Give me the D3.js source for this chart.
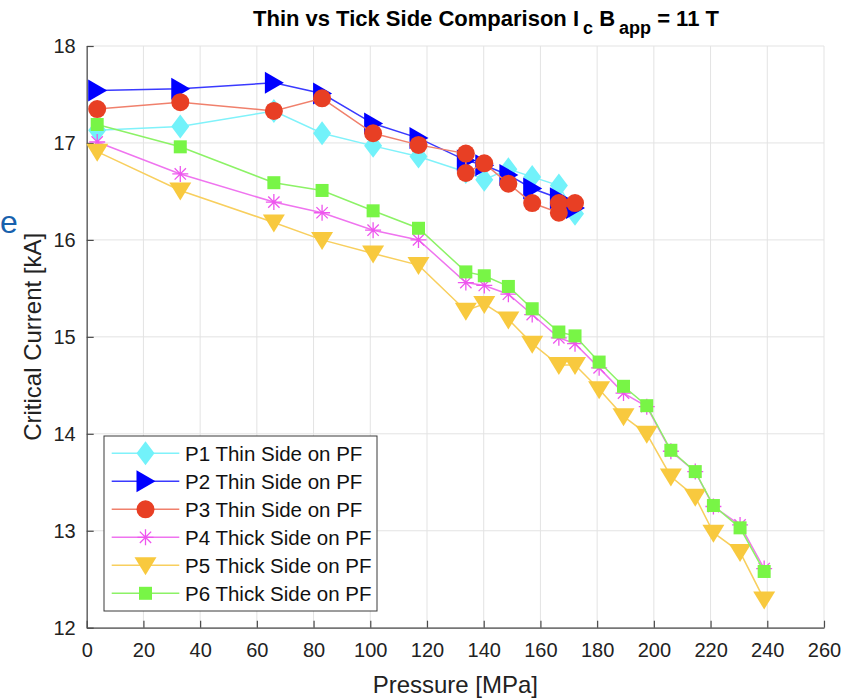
<!DOCTYPE html>
<html>
<head>
<meta charset="utf-8">
<script src="https://cdn.jsdelivr.net/npm/d3@7"></script>
<style>
  html, body { margin: 0; padding: 0; background: #fff; }
  svg { display: block; font-family: "Liberation Sans", Arial, Helvetica, sans-serif; }
</style>
</head>
<body>
<svg id="chart" width="852" height="699"></svg>
<script>
// Pressure [MPa] at each measurement step
const pressureThin = [3.7, 33, 66, 83, 101, 117, 133.7, 140.2, 148.7, 157.1, 166.5, 172.2];
const pressureP3 = [3.7, 33, 66, 83, 101, 117, 133.7, 133.7, 140.2, 148.7, 157.1, 166.5, 166.5, 172.2];
const pressureThick = [3.7, 33, 66, 83, 101, 117, 133.7, 140.2, 148.7, 157.1, 166.5, 172.2,
  180.7, 189.3, 197.5, 206, 214.6, 221, 230.4, 238.9];

// Critical current [kA]
const icP1 = [17.13, 17.17, 17.33, 17.10, 16.97, 16.86, 16.70, 16.62, 16.73, 16.65, 16.56, 16.27];
const icP2 = [17.54, 17.56, 17.62, 17.51, 17.20, 17.05, 16.82, 16.77, 16.67, 16.53, 16.43, 16.33];
const icP3 = [17.35, 17.42, 17.33, 17.46, 17.10, 16.98, 16.89, 16.69, 16.79, 16.58, 16.38, 16.28, 16.38, 16.38];
const icP4 = [17.01, 16.68, 16.39, 16.28, 16.10, 16.00, 15.56, 15.53, 15.44, 15.23, 14.99, 14.93,
  14.68, 14.42, 14.28, 13.82, 13.61, 13.25, 13.06, 12.61];
const icP5 = [16.91, 16.51, 16.18, 16.00, 15.86, 15.74, 15.27, 15.34, 15.18, 14.93, 14.71, 14.71,
  14.46, 14.18, 14.00, 13.56, 13.35, 12.98, 12.78, 12.29];
const icP6 = [17.19, 16.96, 16.59, 16.51, 16.30, 16.12, 15.67, 15.63, 15.52, 15.29, 15.05, 15.01,
  14.74, 14.49, 14.29, 13.83, 13.61, 13.26, 13.03, 12.58];

const seriesNames = ["P1 Thin Side on PF", "P2 Thin Side on PF", "P3 Thin Side on PF",
  "P4 Thick Side on PF", "P5 Thick Side on PF", "P6 Thick Side on PF"];
const xTicks = d3.range(0, 261, 20);
const yTicks = [12, 13, 14, 15, 16, 17, 18];

const series = [
  { name: seriesNames[0], x: pressureThin, y: icP1, line: "#80f2fa", fill: "#72f2fa", marker: "diamond" },
  { name: seriesNames[1], x: pressureThin, y: icP2, line: "#3a3aff", fill: "#0000ff", marker: "triRight" },
  { name: seriesNames[2], x: pressureP3, y: icP3, line: "#f0806c", fill: "#e83f24", marker: "circle" },
  { name: seriesNames[3], x: pressureThick, y: icP4, line: "#ef74ef", fill: "#ee55ee", marker: "asterisk" },
  { name: seriesNames[4], x: pressureThick, y: icP5, line: "#f8cf5e", fill: "#f8c93e", marker: "triDown" },
  { name: seriesNames[5], x: pressureThick, y: icP6, line: "#8cf266", fill: "#78f546", marker: "square" }
];

const svg = d3.select("#chart");
const plotL = 86.7, plotR = 824, plotT = 46, plotB = 627.7;

const x = d3.scaleLinear().domain([0, 260]).range([plotL, plotR]);
const y = d3.scaleLinear().domain([12, 18]).range([plotB, plotT]);

// Marker shapes (paths centred on 0,0)
function markerPath(kind) {
  switch (kind) {
    case "diamond": return "M0,-12L9,0L0,12L-9,0Z";
    case "triRight": return "M-9,-11L10,0L-9,11Z";
    case "triDown": return "M-11,-8L11,-8L0,10Z";
    case "square": return "M-6.5,-6.5H6.5V6.5H-6.5Z";
    case "circle": return d3.symbol(d3.symbolCircle, Math.PI * 81)();
    case "asterisk": {
      const r = 8, d = r * Math.SQRT1_2;
      return `M${-r},0H${r}M0,${-r}V${r}M${-d},${-d}L${d},${d}M${-d},${d}L${d},${-d}`;
    }
  }
}

function drawMarker(g, s) {
  const p = g.append("path").attr("d", markerPath(s.marker));
  if (s.marker === "asterisk") {
    p.attr("fill", "none").attr("stroke", s.fill).attr("stroke-width", 1.3);
  } else {
    p.attr("fill", s.fill).attr("stroke", "none");
  }
  return p;
}

// Grid
const grid = svg.append("g");
grid.selectAll(".gx").data(xTicks).join("line")
  .attr("x1", d => x(d)).attr("x2", d => x(d))
  .attr("y1", plotT).attr("y2", plotB)
  .attr("stroke", "#e3e3e3").attr("stroke-width", 1);
grid.selectAll(".gy").data(yTicks).join("line")
  .attr("x1", plotL).attr("x2", plotR)
  .attr("y1", d => y(d)).attr("y2", d => y(d))
  .attr("stroke", "#e3e3e3").attr("stroke-width", 1);

// Axes (ticks point inward)
const axisColor = "#4a4a4a";
const xAxis = svg.append("g").attr("transform", `translate(0,${plotB})`)
  .call(d3.axisBottom(x).tickValues(xTicks).tickFormat(d3.format("d"))
    .tickSizeInner(-7).tickSizeOuter(0).tickPadding(15));
const yAxis = svg.append("g").attr("transform", `translate(${plotL},0)`)
  .call(d3.axisLeft(y).tickValues(yTicks).tickFormat(d3.format("d"))
    .tickSizeInner(-7).tickSizeOuter(0).tickPadding(11));
[xAxis, yAxis].forEach(a => {
  a.select(".domain").attr("stroke", axisColor).attr("stroke-width", 1.2);
  a.selectAll(".tick line").attr("stroke", axisColor).attr("stroke-width", 1.2);
  a.selectAll(".tick text").attr("fill", "#222").attr("font-size", 20)
    .attr("font-family", "'Liberation Sans', Arial, sans-serif");
});

// Series lines and markers
series.forEach(s => {
  const pts = s.x.map((v, i) => [v, s.y[i]]);
  svg.append("path")
    .attr("d", d3.line().x(d => x(d[0])).y(d => y(d[1]))(pts))
    .attr("fill", "none").attr("stroke", s.line).attr("stroke-width", 1.5);
  pts.forEach(p => {
    const g = svg.append("g").attr("transform", `translate(${x(p[0])},${y(p[1])})`);
    drawMarker(g, s);
  });
});

// Title
const title = svg.append("text")
  .attr("x", 253).attr("y", 26)
  .attr("text-anchor", "start")
  .attr("font-weight", "bold").attr("font-size", 22).attr("fill", "#000");
title.append("tspan").text("Thin vs Tick Side Comparison I");
title.append("tspan").attr("dx", 4).attr("dy", 8).attr("font-size", 18).text("c");
title.append("tspan").attr("dy", -8).text(" B");
title.append("tspan").attr("dx", 4).attr("dy", 8).attr("font-size", 18).text("app");
title.append("tspan").attr("dy", -8).text(" = 11 T");

// Axis labels
svg.append("text")
  .attr("x", (plotL + plotR) / 2).attr("y", 693)
  .attr("text-anchor", "middle").attr("font-size", 24).attr("fill", "#222")
  .text("Pressure [MPa]");
svg.append("text")
  .attr("transform", `translate(41,${(plotT + plotB) / 2}) rotate(-90)`)
  .attr("text-anchor", "middle").attr("font-size", 24).attr("fill", "#222")
  .text("Critical Current [kA]");

// Stray glyph at the left edge
svg.append("text")
  .attr("x", 0).attr("y", 233).attr("text-anchor", "start")
  .attr("font-size", 32).attr("fill", "#1761ad")
  .text("e");

// Legend
const lg = svg.append("g");
lg.append("rect")
  .attr("x", 104).attr("y", 436).attr("width", 273).attr("height", 175)
  .attr("fill", "#fff").attr("stroke", "#3a3a3a").attr("stroke-width", 1);
series.forEach((s, i) => {
  const cy = 453.3 + i * 28;
  lg.append("line").attr("x1", 111.7).attr("x2", 179.3).attr("y1", cy).attr("y2", cy)
    .attr("stroke", s.line).attr("stroke-width", 1.5);
  const g = lg.append("g").attr("transform", `translate(145.5,${cy})`);
  drawMarker(g, s);
  lg.append("text").attr("x", 185).attr("y", cy + 7.5)
    .attr("font-size", 20.5).attr("fill", "#111").text(s.name);
});
</script>
</body>
</html>
